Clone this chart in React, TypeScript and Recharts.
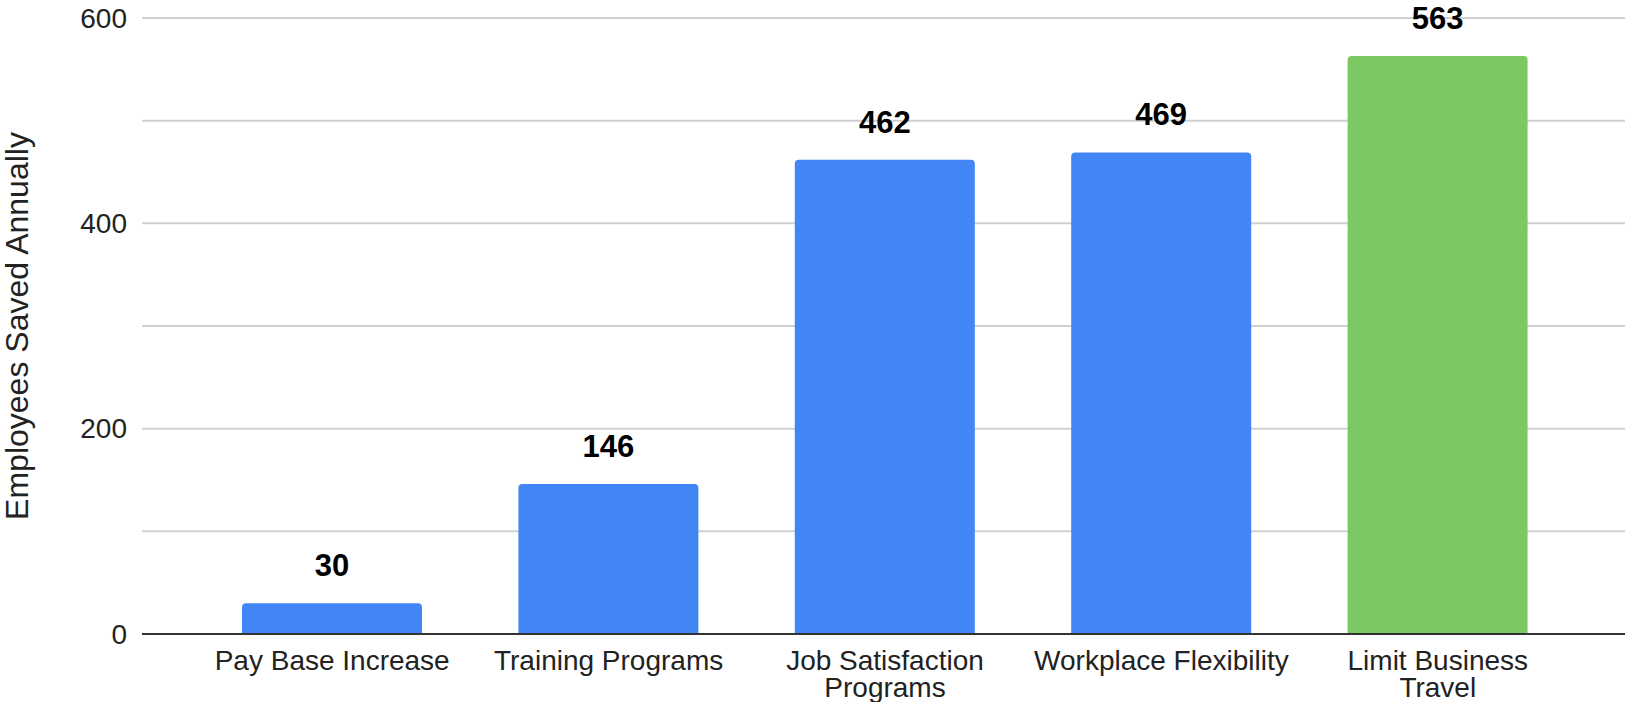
import React from 'react';
import { BarChart, Bar, XAxis, YAxis, CartesianGrid, Cell, LabelList } from 'recharts';

const categories = [
  'Pay Base Increase',
  'Training Programs',
  'Job Satisfaction Programs',
  'Workplace Flexibility',
  'Limit Business Travel',
];
const values = [30, 146, 462, 469, 563];
const barColors = ['#4285F4', '#4285F4', '#4285F4', '#4285F4', '#7CC964'];
const yTickLabels = [0, 200, 400, 600];
const gridValues = [0, 100, 200, 300, 400, 500, 600];
const yTitle = 'Employees Saved Annually';

const data = categories.map((name, i) => ({ name, value: values[i] }));

const FONT = '"Liberation Sans", Arial, Helvetica, sans-serif';
const X_FONT_SIZE = 28;
const X_WRAP = 260;

let measureCtx: CanvasRenderingContext2D | null = null;
function measure(s: string): number {
  if (typeof document === 'undefined') return s.length * X_FONT_SIZE * 0.5;
  if (!measureCtx) {
    const c = document.createElement('canvas');
    measureCtx = c.getContext('2d');
  }
  if (!measureCtx) return s.length * X_FONT_SIZE * 0.5;
  measureCtx.font = `${X_FONT_SIZE}px "Liberation Sans", Arial, sans-serif`;
  return measureCtx.measureText(s).width;
}

function wrap(label: string): string[] {
  const words = label.split(' ');
  const lines: string[] = [];
  let cur = '';
  words.forEach((w) => {
    const next = cur ? cur + ' ' + w : w;
    if (cur && measure(next) > X_WRAP) {
      lines.push(cur);
      cur = w;
    } else {
      cur = next;
    }
  });
  if (cur) lines.push(cur);
  return lines;
}

const XTick = (props: any) => {
  const { x, y, payload } = props;
  const lines = wrap(String(payload.value));
  return (
    <text
      x={x}
      y={y}
      textAnchor="middle"
      fontSize={X_FONT_SIZE}
      fontFamily={FONT}
      fill="#222"
    >
      {lines.map((l, i) => (
        <tspan key={i} x={x} dy={i === 0 ? '0.71em' : 27}>
          {l}
        </tspan>
      ))}
    </text>
  );
};

const YTick = (props: any) => {
  const { x, y, payload } = props;
  if (!yTickLabels.includes(payload.value)) return <g />;
  return (
    <text
      x={x}
      y={y}
      textAnchor="end"
      dominantBaseline="central"
      fontSize={28}
      fontFamily={FONT}
      fill="#222"
    >
      {payload.value}
    </text>
  );
};

const YTitle = (props: any) => {
  const { viewBox } = props;
  const cx = viewBox.x + 28;
  const cy = viewBox.y + viewBox.height / 2;
  return (
    <text
      x={cx}
      y={cy}
      transform={`rotate(-90, ${cx}, ${cy})`}
      textAnchor="middle"
      fontSize={32}
      fontFamily={FONT}
      fill="#222"
    >
      {yTitle}
    </text>
  );
};

export default function App() {
  return (
    <div style={{ position: 'absolute', left: 0, top: 0, background: '#fff' }}>
      <BarChart
        width={1627}
        height={702}
        data={data}
        margin={{ top: 18, right: 2, left: 0, bottom: 0 }}
        barSize={180}
      >
        <CartesianGrid vertical={false} stroke="#d0d0d0" strokeWidth={2} />
        <XAxis
          dataKey="name"
          height={68}
          padding={{ left: 52, right: 49 }}
          tickLine={false}
          tickSize={0}
          tickMargin={16}
          axisLine={{ stroke: '#333', strokeWidth: 2 }}
          tick={<XTick />}
          interval={0}
        />
        <YAxis
          width={142}
          domain={[0, 600]}
          ticks={gridValues}
          interval={0}
          axisLine={false}
          tickLine={false}
          tickSize={0}
          tickMargin={15}
          tick={<YTick />}
          label={<YTitle />}
        />
        <Bar dataKey="value" isAnimationActive={false} radius={[4, 4, 0, 0]}>
          {data.map((d, i) => (
            <Cell key={d.name} fill={barColors[i]} />
          ))}
          <LabelList
            dataKey="value"
            position="top"
            offset={27}
            fontSize={31}
            fontWeight="bold"
            fontFamily={FONT}
            fill="#000"
          />
        </Bar>
      </BarChart>
    </div>
  );
}
